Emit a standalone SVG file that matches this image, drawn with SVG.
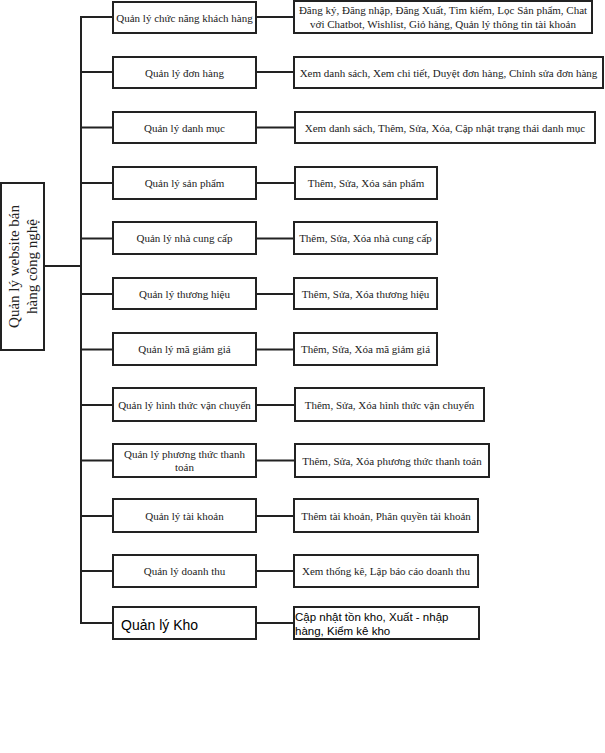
<svg xmlns="http://www.w3.org/2000/svg" width="605" height="753" viewBox="0 0 605 753">
<style>
.b{fill:#fff;stroke:#222;stroke-width:2}
.t{font-family:"Liberation Serif","Times New Roman",serif;font-size:11px;fill:#222;text-anchor:middle;dominant-baseline:central}
.r{font-family:"Liberation Serif","Times New Roman",serif;font-size:15px;fill:#222;text-anchor:middle;dominant-baseline:central}
.s{font-family:"Liberation Sans",Arial,sans-serif;fill:#000}
.c{stroke:#222;stroke-width:2;fill:none}
</style>
<rect width="605" height="753" fill="#fff"/>
<g id="connectors" class="c">
<line x1="44" y1="266" x2="81" y2="266"/>
<line x1="81" y1="16" x2="81" y2="624"/>
<path d="M81 17H113M256 17H294"/>
<path d="M81 72H113M256 72H294"/>
<path d="M81 127.5H113M256 127.5H295"/>
<path d="M81 183H113M256 183H295"/>
<path d="M81 238.5H113M256 238.5H294"/>
<path d="M81 294H113M256 294H294"/>
<path d="M81 349.5H113M256 349.5H294"/>
<path d="M81 405H113M256 405H295"/>
<path d="M81 460.5H113M256 460.5H295"/>
<path d="M81 516H113M256 516H294"/>
<path d="M81 571H113M256 571H294"/>
<path d="M81 623H113M256 623H294"/>
</g>
<g id="root">
<rect class="b" x="1" y="183" width="43" height="167"/>
<text class="r" transform="translate(22.5 266.5) rotate(-90)"><tspan x="0" y="-8.5">Quản lý website bán</tspan><tspan x="0" y="9.5">hàng công nghệ</tspan></text>
</g>
<g id="n0"><rect class="b" x="113" y="2" width="143" height="31"/><text class="t" x="184.5" y="17.5">Quản lý chức năng khách hàng</text></g>
<g id="d0"><rect class="b" x="294" y="1" width="298" height="32"/><text class="t" x="443" y="9.5">Đăng ký, Đăng nhập, Đăng Xuất, Tìm kiếm, Lọc Sản phẩm, Chat</text><text class="t" x="443" y="23.5">với Chatbot, Wishlist, Giỏ hàng, Quản lý thông tin tài khoản</text></g>
<g id="n1"><rect class="b" x="113" y="57" width="143" height="31"/><text class="t" x="184.5" y="72.5">Quản lý đơn hàng</text></g>
<g id="d1"><rect class="b" x="294" y="57" width="309" height="31"/><text class="t" x="448.5" y="72.5">Xem danh sách, Xem chi tiết, Duyệt đơn hàng, Chỉnh sửa đơn hàng</text></g>
<g id="n2"><rect class="b" x="113" y="112" width="143" height="31"/><text class="t" x="184.5" y="127.5">Quản lý danh mục</text></g>
<g id="d2"><rect class="b" x="295" y="112" width="300" height="31"/><text class="t" x="445" y="127.5">Xem danh sách, Thêm, Sửa, Xóa, Cập nhật trạng thái danh mục</text></g>
<g id="n3"><rect class="b" x="113" y="167" width="143" height="32"/><text class="t" x="184.5" y="183">Quản lý sản phẩm</text></g>
<g id="d3"><rect class="b" x="295" y="167" width="142" height="32"/><text class="t" x="366" y="183">Thêm, Sửa, Xóa sản phẩm</text></g>
<g id="n4"><rect class="b" x="113" y="222" width="143" height="32"/><text class="t" x="184.5" y="238">Quản lý nhà cung cấp</text></g>
<g id="d4"><rect class="b" x="294" y="222" width="143" height="32"/><text class="t" x="365.5" y="238">Thêm, Sửa, Xóa nhà cung cấp</text></g>
<g id="n5"><rect class="b" x="113" y="278" width="143" height="31"/><text class="t" x="184.5" y="293.5">Quản lý thương hiệu</text></g>
<g id="d5"><rect class="b" x="294" y="278" width="143" height="31"/><text class="t" x="365.5" y="293.5">Thêm, Sửa, Xóa thương hiệu</text></g>
<g id="n6"><rect class="b" x="113" y="333" width="143" height="32"/><text class="t" x="184.5" y="349">Quản lý mã giảm giá</text></g>
<g id="d6"><rect class="b" x="294" y="333" width="143" height="32"/><text class="t" x="365.5" y="349">Thêm, Sửa, Xóa mã giảm giá</text></g>
<g id="n7"><rect class="b" x="113" y="388" width="143" height="33"/><text class="t" x="184.5" y="404.5">Quản lý hình thức vận chuyển</text></g>
<g id="d7"><rect class="b" x="295" y="388" width="189" height="33"/><text class="t" x="389.5" y="404.5">Thêm, Sửa, Xóa hình thức vận chuyển</text></g>
<g id="n8"><rect class="b" x="113" y="444" width="143" height="33"/><text class="t" x="184.5" y="453.5">Quản lý phương thức thanh</text><text class="t" x="184.5" y="467">toán</text></g>
<g id="d8"><rect class="b" x="295" y="444" width="194" height="33"/><text class="t" x="392" y="460.5">Thêm, Sửa, Xóa phương thức thanh toán</text></g>
<g id="n9"><rect class="b" x="113" y="499" width="143" height="33"/><text class="t" x="184.5" y="515.5">Quản lý tài khoản</text></g>
<g id="d9"><rect class="b" x="294" y="499" width="184" height="33"/><text class="t" x="386" y="515.5">Thêm tài khoản, Phân quyền tài khoản</text></g>
<g id="n10"><rect class="b" x="113" y="555" width="143" height="32"/><text class="t" x="184.5" y="571">Quản lý doanh thu</text></g>
<g id="d10"><rect class="b" x="294" y="555" width="184" height="32"/><text class="t" x="386" y="571">Xem thống kê, Lập báo cáo doanh thu</text></g>
<g id="n11"><rect class="b" x="113" y="607" width="143" height="32"/><text class="s" x="121" y="630" font-size="14">Quản lý Kho</text></g>
<g id="d11"><rect class="b" x="294" y="607" width="185" height="32"/><text class="s" x="295" y="621" font-size="11.5">Cập nhật tồn kho, Xuất - nhập</text><text class="s" x="295" y="635" font-size="11.5">hàng, Kiểm kê kho</text></g>
</svg>
